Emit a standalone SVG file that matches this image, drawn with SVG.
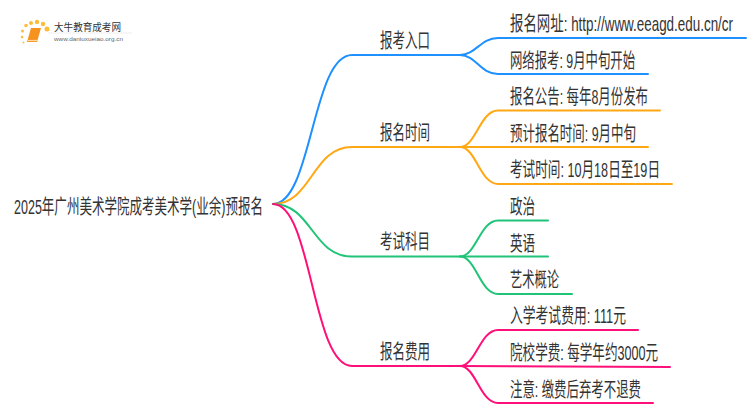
<svg xmlns="http://www.w3.org/2000/svg" width="750" height="410" viewBox="0 0 750 410">
<style>
text{font-family:"Liberation Sans","Noto Sans CJK SC",sans-serif;fill:#333;font-size:20px}
.c{fill:none;stroke-width:2;stroke-linecap:round}
.b{stroke:#1e90ff}.o{stroke:#ffa814}.g{stroke:#1fc476}.p{stroke:#ff0f78}
</style>
<rect width="750" height="410" fill="#fff"/>
<g id="logo">
<g fill="#fdbc3a"><circle cx="47" cy="29" r="2.500"/><circle cx="43" cy="24" r="2.200"/><circle cx="37" cy="22" r="2.200"/><circle cx="31" cy="23" r="2"/><circle cx="26" cy="25.500" r="1.800"/><circle cx="22.500" cy="31" r="1.500"/><circle cx="22" cy="37" r="1.300"/><circle cx="23.500" cy="42.500" r="1"/></g>
<path d="M31 28H41L37 42H27Z" fill="#f5931e"/><path d="M28 40.500H37" stroke="#ffd9a0" stroke-width="1.200"/>
<path d="M48 33H132" stroke="#eee"/>
<text x="54" y="31" textLength="67" lengthAdjust="spacingAndGlyphs" style="font-size:10px">大牛教育成考网</text>
<text x="54" y="41" textLength="69" lengthAdjust="spacingAndGlyphs" style="font-size:6px;fill:#666">www.daniuxueiao.org.cn</text>
</g>
<g id="connectors">
<path class="c b" d="M273 204C312 204 312 55 352 55H460C476 55 480 38 498 38H746"/>
<path class="c b" d="M460 55C476 55 480 74 498 74H648"/>
<path class="c o" d="M273 204C312 204 312 147 352 147H460C476 147 480 110.500 498 110.500H660"/>
<path class="c o" d="M460 147H648"/>
<path class="c o" d="M460 147C476 147 480 184 498 184H672"/>
<path class="c g" d="M273 204C312 204 312 256.500 352 256.500H460C476 256.500 480 220.500 498 220.500H548"/>
<path class="c g" d="M460 256.500H548"/>
<path class="c g" d="M460 256.500C476 256.500 480 294 498 294H572"/>
<path class="c p" d="M273 204C312 204 312 366 352 366H460C476 366 480 330 498 330H638"/>
<path class="c p" d="M460 366L670 367"/>
<path class="c p" d="M460 366C476 366 480 403 498 403H653"/>
</g>
<g id="root"><text x="14" y="214" textLength="249" lengthAdjust="spacingAndGlyphs">2025年广州美术学院成考美术学(业余)预报名</text></g>
<g id="n1"><text x="380" y="48" textLength="50" lengthAdjust="spacingAndGlyphs">报考入口</text></g>
<g id="n2"><text x="380" y="140" textLength="50" lengthAdjust="spacingAndGlyphs">报名时间</text></g>
<g id="n3"><text x="380" y="249" textLength="50" lengthAdjust="spacingAndGlyphs">考试科目</text></g>
<g id="n4"><text x="380" y="359" textLength="50" lengthAdjust="spacingAndGlyphs">报名费用</text></g>
<g id="n1a"><text transform="translate(510 31) scale(.654 1)" textLength="341" lengthAdjust="spacingAndGlyphs">报名网址: http://www.eeagd.edu.cn/cr</text></g>
<g id="n1b"><text x="510" y="68" textLength="125" lengthAdjust="spacingAndGlyphs">网络报考: 9月中旬开始</text></g>
<g id="n2a"><text x="510" y="104" textLength="138" lengthAdjust="spacingAndGlyphs">报名公告: 每年8月份发布</text></g>
<g id="n2b"><text x="510" y="141" textLength="126" lengthAdjust="spacingAndGlyphs">预计报名时间: 9月中旬</text></g>
<g id="n2c"><text x="510" y="177" textLength="150" lengthAdjust="spacingAndGlyphs">考试时间: 10月18日至19日</text></g>
<g id="n3a"><text x="510" y="214" textLength="25" lengthAdjust="spacingAndGlyphs">政治</text></g>
<g id="n3b"><text x="510" y="251" textLength="25" lengthAdjust="spacingAndGlyphs">英语</text></g>
<g id="n3c"><text x="510" y="287" textLength="49" lengthAdjust="spacingAndGlyphs">艺术概论</text></g>
<g id="n4a"><text x="510" y="323" textLength="116" lengthAdjust="spacingAndGlyphs">入学考试费用: 111元</text></g>
<g id="n4b"><text x="510" y="360" textLength="148" lengthAdjust="spacingAndGlyphs">院校学费: 每学年约3000元</text></g>
<g id="n4c"><text x="510" y="397" textLength="131" lengthAdjust="spacingAndGlyphs">注意: 缴费后弃考不退费</text></g>
</svg>
